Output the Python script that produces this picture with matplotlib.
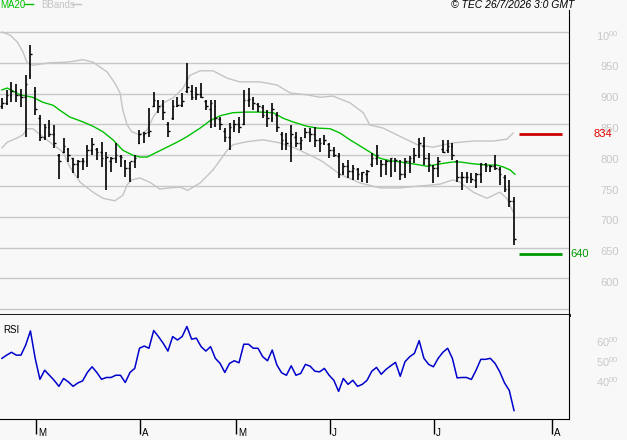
import numpy as np
import matplotlib
matplotlib.use('Agg')
import matplotlib.pyplot as plt
from matplotlib.transforms import offset_copy

plt.rcParams['font.family'] = ['Liberation Sans', 'DejaVu Sans']

# daily bars (price)
highs = [893, 906, 919, 916, 908, 930, 979, 911, 865, 851, 857, 849, 802, 828, 812, 795, 792, 795, 817, 828,
         812, 822, 805, 797, 820, 800, 792, 789, 800, 841, 838, 876, 903, 890, 890, 854, 890, 894, 901, 950,
         914, 911, 917, 890, 890, 890, 862, 844, 852, 857, 862, 906, 909, 894, 885, 881, 873, 885, 870, 838,
         836, 849, 838, 830, 844, 844, 846, 828, 833, 820, 813, 803, 787, 792, 784, 779, 773, 776, 803, 817,
         792, 792, 795, 795, 792, 795, 799, 812, 828, 830, 803, 784, 797, 825, 825, 820, 792, 773, 773, 771,
         771, 787, 787, 784, 800, 781, 768, 760, 732]
lows = [875, 882, 886, 886, 878, 830, 924, 865, 823, 825, 830, 812, 761, 803, 789, 771, 763, 776, 781, 800,
        792, 781, 743, 773, 787, 781, 765, 756, 779, 818, 820, 830, 878, 868, 857, 830, 857, 878, 878, 901,
        890, 890, 893, 873, 844, 846, 841, 821, 808, 838, 836, 849, 878, 873, 870, 860, 846, 854, 838, 808,
        808, 789, 813, 808, 828, 822, 813, 805, 817, 795, 797, 763, 768, 763, 760, 760, 756, 755, 781, 784,
        765, 768, 765, 773, 760, 763, 771, 787, 795, 784, 773, 755, 765, 803, 803, 792, 756, 743, 755, 755,
        747, 755, 773, 773, 776, 752, 740, 716, 654]
opens = [880, 885, 898, 905, 897, 895, 930, 905, 860, 830, 845, 835, 800, 805, 810, 795, 785, 790, 790, 808,
         810, 805, 795, 790, 795, 798, 790, 780, 790, 820, 832, 838, 880, 888, 880, 850, 860, 880, 882, 905,
         905, 895, 900, 888, 875, 880, 858, 840, 830, 845, 850, 850, 890, 890, 883, 878, 865, 860, 865, 835,
         825, 820, 830, 820, 830, 838, 835, 825, 820, 818, 808, 798, 772, 782, 775, 778, 770, 770, 785, 795,
         790, 785, 790, 790, 790, 770, 790, 795, 800, 815, 795, 783, 780, 810, 808, 815, 790, 765, 765, 765,
         760, 770, 785, 783, 782, 778, 765, 745, 725]
closes = [885, 898, 905, 897, 895, 915, 965, 875, 830, 845, 835, 820, 790, 815, 800, 785, 790, 790, 808, 818,
          805, 795, 797, 795, 800, 797, 780, 790, 795, 835, 836, 840, 890, 880, 870, 840, 880, 882, 888, 910,
          895, 900, 895, 880, 885, 860, 850, 830, 845, 850, 845, 890, 892, 885, 880, 865, 860, 875, 845, 825,
          820, 835, 820, 825, 838, 835, 825, 820, 825, 808, 800, 770, 782, 775, 780, 770, 772, 775, 795, 800,
          785, 790, 795, 793, 770, 790, 795, 800, 820, 795, 785, 780, 790, 805, 815, 800, 765, 765, 765, 762,
          770, 785, 783, 782, 780, 770, 745, 725, 664]

# MA20 and Bollinger bands, sampled along the lines (bar index, price)
ma_x = [0, 1.1, 3.8, 6.5, 8.6, 10.8, 12.2, 14.3, 17.1, 19.2, 21.3, 23.4, 25.5, 27.6, 29.1, 30.6, 32.7, 34.8,
        36.9, 39.0, 41.8, 43.9, 46.0, 48.7, 51.7, 54.4, 57.2, 59.3, 61.4, 64.3, 66.5, 69.2, 71.3, 73.4, 77.0,
        79.7, 81.9, 84.0, 86.7, 89.7, 92.4, 95.1, 96.6, 99.4, 102.3, 104.4, 105.7, 107.2, 108.2]
ma_v = [906, 909, 898, 894, 886, 881, 873, 862, 854, 847, 838, 825, 808, 800, 797, 797, 805, 813,
        821, 830, 844, 856, 864, 869, 870, 870, 869, 860, 854, 847, 844, 843, 836, 825, 808,
        795, 791, 789, 786, 782, 786, 789, 789, 786, 784, 784, 781, 776, 769]

bb_up_x = [0, 1.7, 3.2, 4.4, 5.3, 6.5, 10.1, 13.7, 17.1, 19.2, 22.2, 23.8, 24.9, 25.5, 26.4, 27.4, 29.1,
           30.6, 31.9, 34.0, 36.1, 38.2, 39.7, 41.8, 44.5, 47.5, 50.2, 54.4, 58.0, 60.8, 64.3, 67.1, 69.8,
           73.4, 76.2, 77.6, 80.4, 83.3, 87.6, 90.9, 95.1, 99.4, 103.6, 106.5, 107.8]
bb_up_v = [1000, 995, 984, 968, 950, 946, 950, 951, 955, 951, 935, 917, 901, 873, 849, 838, 833,
           841, 862, 885, 893, 909, 930, 937, 937, 925, 919, 919, 914, 901, 898, 894, 896,
           885, 869, 849, 844, 833, 817, 813, 820, 823, 823, 826, 836]
bb_lo_x = [0, 1.1, 3.2, 4.4, 5.3, 6.5, 8.6, 10.8, 12.9, 14.3, 16.5, 19.2, 21.3, 23.8, 25.5, 26.4, 27.4,
           29.1, 31.2, 33.3, 35.4, 37.6, 39.2, 41.8, 44.5, 47.5, 48.7, 51.7, 55.1, 58.6, 61.4, 65.0, 67.1,
           68.1, 71.3, 75.5, 79.7, 84.0, 88.2, 92.4, 95.1, 96.6, 99.4, 102.3, 105.0, 106.5, 107.8]
bb_lo_v = [812, 821, 828, 833, 843, 843, 830, 817, 805, 781, 756, 740, 730, 726, 735, 752, 760,
           763, 756, 745, 747, 748, 743, 755, 776, 808, 817, 822, 825, 820, 813, 800, 792,
           787, 769, 755, 747, 747, 750, 753, 760, 756, 740, 730, 740, 730, 708]

rsi = [51.7, 53.3, 54.7, 53.3, 53.3, 58.3, 65.3, 51.7, 41.3, 45.8, 43.3, 40.8, 37.8, 41.7, 40.0, 37.8, 39.5,
       40.5, 44.7, 47.5, 44.7, 41.3, 42.2, 42.2, 43.3, 43.3, 39.7, 44.7, 46.7, 56.7, 57.8, 56.7, 65.5, 62.5,
       59.2, 55.3, 62.5, 60.8, 62.5, 67.5, 61.2, 61.7, 57.5, 55.3, 57.5, 51.7, 49.2, 44.7, 49.2, 50.5, 49.5,
       58.7, 58.7, 56.7, 56.7, 52.5, 50.5, 55.8, 48.3, 44.5, 43.3, 48.0, 43.3, 44.2, 48.7, 47.8, 45.3, 45.0,
       46.7, 43.3, 40.8, 35.3, 41.7, 38.8, 40.8, 37.8, 38.8, 40.8, 45.3, 47.2, 43.8, 46.2, 48.0, 49.7, 42.8,
       50.0, 52.5, 54.2, 60.5, 51.7, 48.7, 47.5, 51.7, 54.7, 56.7, 51.7, 42.0, 42.2, 42.2, 41.2, 45.8, 51.2,
       51.2, 51.7, 49.2, 45.0, 39.5, 35.8, 25.8]

grid_levels = [550, 600, 650, 700, 750, 800, 850, 900, 950, 1000]
price_labels = [600, 650, 700, 750, 800, 850, 900, 950, 1000]
rsi_labels = [40, 50, 60]
month_ticks = [7.2, 29.1, 49.4, 69.2, 91.1, 116.0]
month_names = ['M', 'A', 'M', 'J', 'J', 'A']
resistance = 834
support = 640
level_span = (109.1, 118.1)

BG = '#f8f8f8'
GRID = '#c8c8c8'
W, H = 627, 440

fig = plt.figure(figsize=(W / 100, H / 100), dpi=100, facecolor=BG)
ax = fig.add_axes([0, 1 - 315 / H, 569 / W, 305 / H], facecolor=BG)
ax2 = fig.add_axes([0, 1 - 419 / H, 569 / W, 104 / H], facecolor=BG)

idx = np.arange(len(closes))
xlim = (-0.42, 119.6)

# price panel
for g in grid_levels:
    ax.axhline(g, color=GRID, lw=1, zorder=0)
ax.plot(bb_up_x, bb_up_v, color='#c4c4c4', lw=1, zorder=1)
ax.plot(bb_lo_x, bb_lo_v, color='#c4c4c4', lw=1, zorder=1)
ax.plot(ma_x, ma_v, color='#00c000', lw=1, zorder=2)
ax.vlines(idx, lows, highs, color='black', lw=1.2, zorder=3)
ax.hlines(opens, idx - 0.35, idx, color='black', lw=1, zorder=3)
ax.hlines(closes, idx, idx + 0.35, color='black', lw=1, zorder=3)
ax.hlines(resistance, *level_span, color='#cc0000', lw=2, zorder=3)
ax.hlines(support, *level_span, color='#009900', lw=2, zorder=3)

ax.set_xlim(*xlim)
ax.set_ylim(540.6, 1035.7)
ax.set_xticks([])
ax.set_yticks([])
for s in ['top', 'left']:
    ax.spines[s].set_visible(False)
ax.spines['right'].set_color('black')
ax.spines['bottom'].set_color('black')
ax.spines['bottom'].set_linewidth(2)

ytr = offset_copy(ax.get_yaxis_transform(), fig=fig, x=0, y=-4.5, units='dots')
for v in price_labels:
    s = str(v)
    if v >= 1000:
        s = r'$\mathregular{%s^{%s}}$' % (s[:2], s[2:])
    ax.text(619 / 569, v, s, transform=ytr, ha='right', va='center',
            fontsize=8, color=GRID, clip_on=False)
ax.text(593 / 569, resistance, str(resistance), transform=ax.get_yaxis_transform(),
        ha='left', va='center', fontsize=8, color='#dd0000', clip_on=False)
ax.text(570 / 569, support, str(support), transform=ax.get_yaxis_transform(),
        ha='left', va='center', fontsize=8, color='#009900', clip_on=False)

# RSI panel
ax2.plot(idx, rsi, color='#0000cc', lw=1.1)
ax2.set_xlim(*xlim)
ax2.set_ylim(21.6, 73.2)
ax2.set_yticks([])
for s in ['top', 'left']:
    ax2.spines[s].set_visible(False)
ax2.set_xticks(month_ticks)
ax2.set_xticklabels([])
ax2.tick_params(axis='x', direction='out', length=11, width=1, color='black')
xtr = offset_copy(ax2.get_xaxis_transform(), fig=fig, x=2, y=0, units='dots')
for t, m in zip(month_ticks, month_names):
    ax2.text(t, -0.13, m, transform=xtr, ha='left', va='center', fontsize=7, clip_on=False)
for v in rsi_labels:
    ax2.text(619 / 569, v, r'$\mathregular{%d^{00}}$' % v, transform=ax2.get_yaxis_transform(),
             ha='right', va='center', fontsize=8, color=GRID, clip_on=False)
ax2.text(3 / 569, 0.86, 'RSI', transform=ax2.transAxes, ha='left', va='center', fontsize=7)

# header
fig.text(0 / W, 1 - 5 / H, 'MA20', color='#00c000', fontsize=7, ha='left', va='center')
fig.add_artist(plt.Line2D([24 / W, 33 / W], [1 - 4 / H, 1 - 4 / H], color='#00c000', lw=1))
fig.text(41 / W, 1 - 5 / H, 'BBands', color='#c4c4c4', fontsize=7, ha='left', va='center')
fig.add_artist(plt.Line2D([72 / W, 81 / W], [1 - 4 / H, 1 - 4 / H], color='#c4c4c4', lw=1))
fig.text(574 / W, 1 - 5 / H, '© TEC 26/7/2026 3:0 GMT', fontsize=7.5, style='italic',
         ha='right', va='center')

fig.savefig('out.png', dpi=100, facecolor=BG)
